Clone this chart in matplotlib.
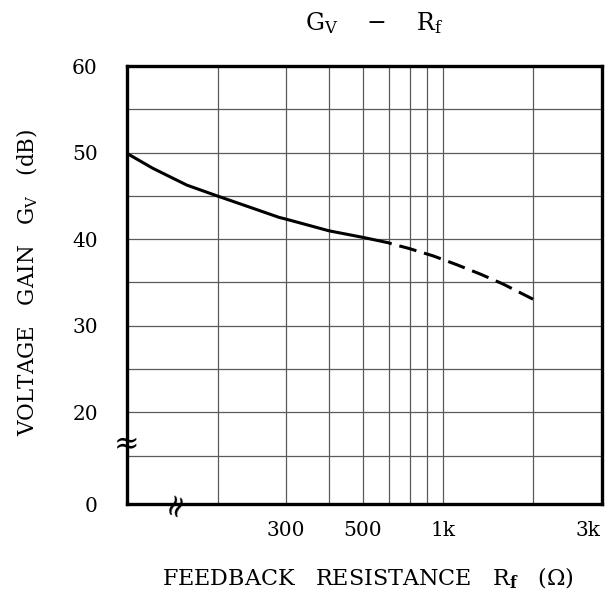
import numpy as np
import matplotlib
matplotlib.use('Agg')
import matplotlib.pyplot as plt

# ---- data ----
rf_solid = [100, 122, 158, 200, 247, 288, 300, 400, 500, 600, 613]
gv_solid = [49.9, 48.17, 46.24, 44.97, 43.55, 42.51, 42.31, 40.96, 40.2, 39.57, 39.45]
rf_dashed = [613, 692, 874, 1113, 1337, 1592, 2000]
gv_dashed = [39.45, 38.94, 38.06, 37.05, 35.95, 34.80, 33.06]

x_grid = [200, 300, 400, 500, 600, 700, 800, 1000, 2000]
y_grid = [15, 20, 25, 30, 35, 40, 45, 50, 55]
x_ticks = [300, 500, 1000, 3000]
x_ticklabels = ['300', '500', '1k', '3k']
y_ticks = [9.4, 20, 30, 40, 50, 60]
y_ticklabels = ['0', '20', '30', '40', '50', '60']

# ---- hand-drawn log axis of the datasheet (scale knots) ----
knot_vals = [10, 100, 200, 300, 400, 500, 600, 700, 800, 1000, 2000, 3000, 3400, 100000]
knot_pos = [-173, 127, 217.7, 286, 329, 363, 388.7, 410, 427, 442.7, 533, 588, 602, 1042.6]
knot_log = np.log10(knot_vals)


def fwd(x):
    x = np.asarray(x, dtype=float)
    return np.interp(np.log10(np.clip(x, 1e-9, None)), knot_log, knot_pos)


def inv(p):
    p = np.asarray(p, dtype=float)
    return 10 ** np.interp(p, knot_pos, knot_log)


plt.rcParams['font.family'] = 'DejaVu Serif'
plt.rcParams['mathtext.fontset'] = 'custom'
plt.rcParams['mathtext.rm'] = 'DejaVu Serif'
plt.rcParams['mathtext.it'] = 'DejaVu Serif'
plt.rcParams['mathtext.bf'] = 'DejaVu Serif:bold'

fig = plt.figure(figsize=(6.12, 5.96), dpi=100)
ax = fig.add_axes([127 / 612, 1 - 504 / 596, 475 / 612, 438 / 596])
ax.set_xscale('function', functions=(fwd, inv))
ax.set_xlim(100, 3400)
ax.set_ylim(9.4, 60)

for xv in x_grid:
    ax.axvline(xv, color='#5a5a5a', lw=0.9, zorder=1)
for yv in y_grid:
    ax.axhline(yv, color='#5a5a5a', lw=0.9, zorder=1)

ax.plot(rf_solid, gv_solid, color='black', lw=2.2, solid_capstyle='butt', zorder=3)
ax.plot(rf_dashed, gv_dashed, color='black', lw=2.2,
        linestyle=(5.8, (5.8, 2.6)), dash_capstyle='butt', zorder=3)

ax.set_xticks(x_ticks)
ax.set_xticklabels(x_ticklabels)
ax.xaxis.set_minor_locator(matplotlib.ticker.NullLocator())
ax.set_yticks(y_ticks)
ax.set_yticklabels(y_ticklabels)
ax.tick_params(which='both', length=0)
ax.tick_params(axis='x', which='major', pad=12, labelsize=14.5)
ax.tick_params(axis='y', which='major', pad=21, labelsize=14.5)

for s in ax.spines.values():
    s.set_linewidth(2.4)
    s.set_color('black')
    s.set_zorder(4)

ax.set_xlabel(r'FEEDBACK   RESISTANCE   R$_{\mathbf{f}}$   ($\Omega$)', fontsize=16)
ax.xaxis.set_label_coords((368 - 127) / 475, (504 - 578) / 438)
ax.xaxis.label.set_va('center')
ax.set_ylabel(r'VOLTAGE   GAIN   G$_{\mathrm{V}}$   (dB)', fontsize=15.5)
ax.yaxis.set_label_coords((27 - 127) / 475, (504 - 282) / 438)
ax.yaxis.label.set_va('center')
ax.set_title(r'G$_{\mathrm{V}}$    $-$    R$_{\mathrm{f}}$', fontsize=17, pad=0,
             y=(504 - 30) / 438, x=(374 - 127) / 475)

# axis break marks
ax.text(0, (504 - 445) / 438, '\u2248', transform=ax.transAxes, ha='center', va='center',
        fontsize=22, clip_on=False, zorder=5)
ax.text((176 - 127) / 475, 0, '\u2248', transform=ax.transAxes, ha='center', va='center',
        fontsize=22, rotation=70, clip_on=False, zorder=5)

fig.savefig('out.png', dpi=100)
